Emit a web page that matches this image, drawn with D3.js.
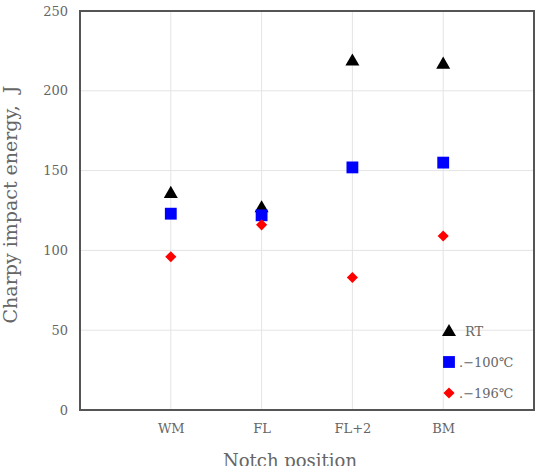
<!DOCTYPE html>
<html><head><meta charset="utf-8">
<script src="https://cdn.jsdelivr.net/npm/d3@7"></script>
<style>body{margin:0;background:#fff}svg{display:block}</style>
</head><body>
<svg id="c" width="536" height="466"></svg>
<script>
const categories = ["WM", "FL", "FL+2", "BM"];
const rtValues = [136, 127, 219, 217];
const m100Values = [123, 122, 152, 155];
const m196Values = [96, 116, 83, 109];
const yTicks = [0, 50, 100, 150, 200, 250];
const seriesNames = ["RT", ".−100℃", ".−196℃"];

const svg = d3.select("#c");
const L = 80, R = 534, T = 11, B = 410;
const font = "'DejaVu Serif', 'Liberation Serif', serif";
const x = d3.scaleLinear().domain([0, categories.length + 1]).range([L, R]);
const y = d3.scaleLinear().domain([0, 250]).range([B, T]);

// grid
svg.append("g").selectAll("line.h").data(yTicks.slice(1, -1)).join("line")
  .attr("x1", L).attr("x2", R).attr("y1", d => y(d)).attr("y2", d => y(d))
  .attr("stroke", "#e4e4e4").attr("stroke-width", 1);
svg.append("g").selectAll("line.v").data(categories).join("line")
  .attr("x1", (d, i) => x(i + 1)).attr("x2", (d, i) => x(i + 1)).attr("y1", T).attr("y2", B)
  .attr("stroke", "#e4e4e4").attr("stroke-width", 1);

// y axis labels
const yAxis = d3.axisLeft(y).tickValues(yTicks).tickSize(0).tickPadding(12);
const ga = svg.append("g").attr("transform", `translate(${L},0)`).call(yAxis);
ga.select(".domain").remove();
ga.selectAll("text").attr("font-family", font).attr("font-size", 13).attr("fill", "#666");

// x axis labels
const xAxis = d3.axisBottom(x).tickValues(categories.map((d, i) => i + 1))
  .tickFormat((d) => categories[d - 1]).tickSize(0).tickPadding(14);
const gx = svg.append("g").attr("transform", `translate(0,${B})`).call(xAxis);
gx.select(".domain").remove();
gx.selectAll("text").attr("font-family", font).attr("font-size", 13).attr("fill", "#666");

// frame
svg.append("rect").attr("x", L).attr("y", T).attr("width", R - L).attr("height", B - T)
  .attr("fill", "none").attr("stroke", "#555").attr("stroke-width", 2);

// titles
svg.append("text").attr("transform", `translate(17,${(T + B) / 2 - 6}) rotate(-90)`)
  .attr("text-anchor", "middle").attr("font-family", font).attr("font-size", 19).attr("fill", "#666")
  .text("Charpy impact energy,\u00a0\u00a0J");
svg.append("text").attr("x", 290).attr("y", 467).attr("text-anchor", "middle")
  .attr("font-family", font).attr("font-size", 18).attr("fill", "#666").text("Notch position");

const sym = [d3.symbolTriangle, d3.symbolSquare, d3.symbolSquare];
const sizes = [85, 140, 62];
const rot = [0, 0, 45];
const colors = ["#000", "#0000ff", "#ff0000"];
const series = [rtValues, m100Values, m196Values];
const dy = [1, 0, 0];
series.forEach((vals, s) => {
  svg.append("g").selectAll("path").data(vals).join("path")
    .attr("d", d3.symbol(sym[s], sizes[s]))
    .attr("transform", (d, i) => `translate(${x(i + 1)},${y(d) + dy[s]}) rotate(${rot[s]})`)
    .attr("fill", colors[s]);
});

// legend
const lg = svg.append("g");
seriesNames.forEach((n, s) => {
  const ly = 331 + s * 31;
  lg.append("path").attr("d", d3.symbol(sym[s], sizes[s]))
    .attr("transform", `translate(449,${ly + dy[s]}) rotate(${rot[s]})`).attr("fill", colors[s]);
  lg.append("text").attr("x", s === 0 ? 465 : 459).attr("y", ly + 5).attr("font-family", font)
    .attr("font-size", 13).attr("fill", "#666").text(n);
});
</script>
</body></html>
